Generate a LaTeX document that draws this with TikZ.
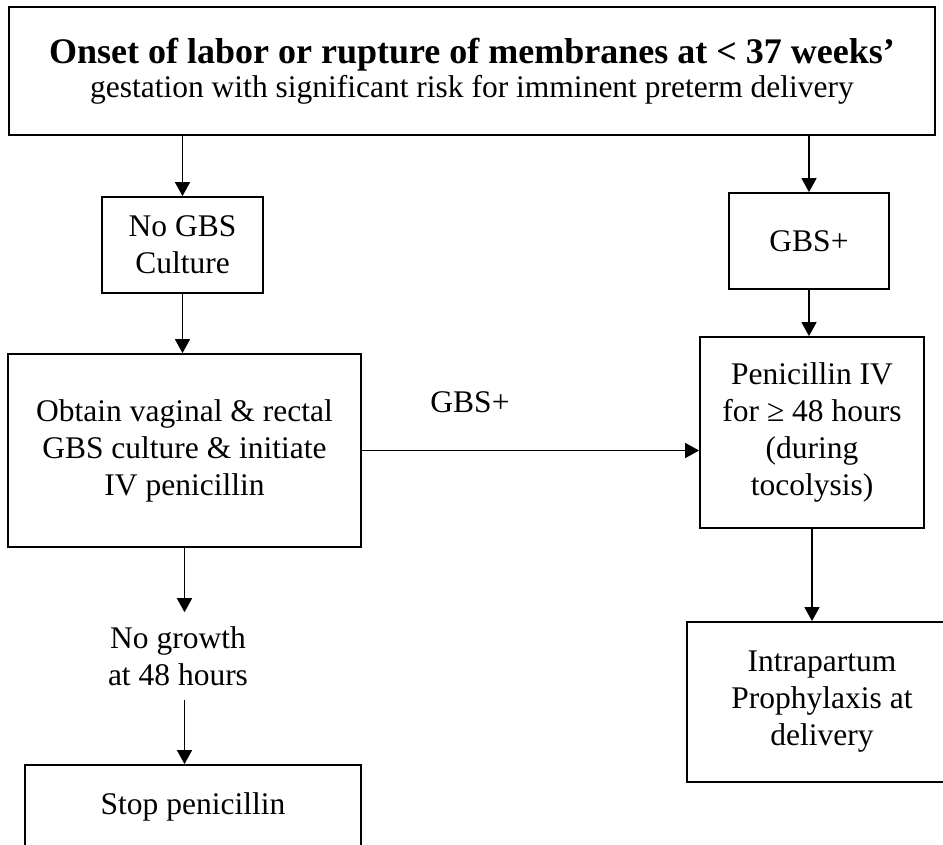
\documentclass[tikz,border=0pt]{standalone}
\usepackage{fontspec}
\setmainfont{Liberation Serif}
\usetikzlibrary{arrows.meta}
\begin{document}
\begin{tikzpicture}[x=1pt,y=-1pt,
 box/.style={draw,line width=1.8pt,rectangle,inner sep=0pt,align=center,font=\fontsize{31.5}{37}\selectfont},
 lbl/.style={inner sep=0pt,align=center,font=\fontsize{31.5}{37}\selectfont},
 arr/.style={line width=1.5pt,-{Triangle[length=14pt,width=15pt]}}]
\useasboundingbox (0,0) rectangle (943,844);
\clip (0,0) rectangle (943,844);
\node[box,minimum width=926pt,minimum height=128pt] (top) at (472,71)
  {{\fontsize{36}{36}\selectfont\bfseries Onset of labor or rupture of membranes at < 37 weeks’}\\[-3pt]
   gestation with significant risk for imminent preterm delivery};
\node[box,minimum width=161pt,minimum height=96pt] (nogbs) at (182.5,245) {No GBS\\Culture};
\node[box,minimum width=160pt,minimum height=96pt] (gbs) at (809,241) {GBS+};
\node[box,minimum width=353pt,minimum height=193pt] (obtain) at (184.5,450.5)
  {Obtain vaginal \& rectal\\GBS culture \& initiate\\IV penicillin};
\node[box,minimum width=224pt,minimum height=191pt] (pen) at (812,432.5)
  {Penicillin IV\\for ≥ 48 hours\\(during\\tocolysis)};
\node[box,minimum width=270pt,minimum height=160pt] (intra) at (822,702)
  {Intrapartum\\Prophylaxis at\\delivery};
\node[box,minimum width=336pt,minimum height=83pt] (stop) at (193,806.5) {Stop penicillin};
\node[lbl] (nogrowth) at (178,656) {No growth\\at 48 hours};
\node[lbl] (gbslbl) at (470,402) {GBS+};
\draw[arr] (nogbs.north |- top.south) -- (nogbs.north);
\draw[arr] (nogbs.south) -- (nogbs.south |- obtain.north);
\draw[arr,shorten >=14pt] (obtain.south) -- (obtain.south |- nogrowth.north);
\draw[arr,shorten <=14pt] (obtain.south |- nogrowth.south) -- (obtain.south |- stop.north);
\draw[arr] (obtain.east) -- (obtain.east -| pen.west);
\draw[arr] (gbs.north |- top.south) -- (gbs.north);
\draw[arr] (gbs.south) -- (gbs.south |- pen.north);
\draw[arr] (pen.south) -- (pen.south |- intra.north);
\end{tikzpicture}
\end{document}
